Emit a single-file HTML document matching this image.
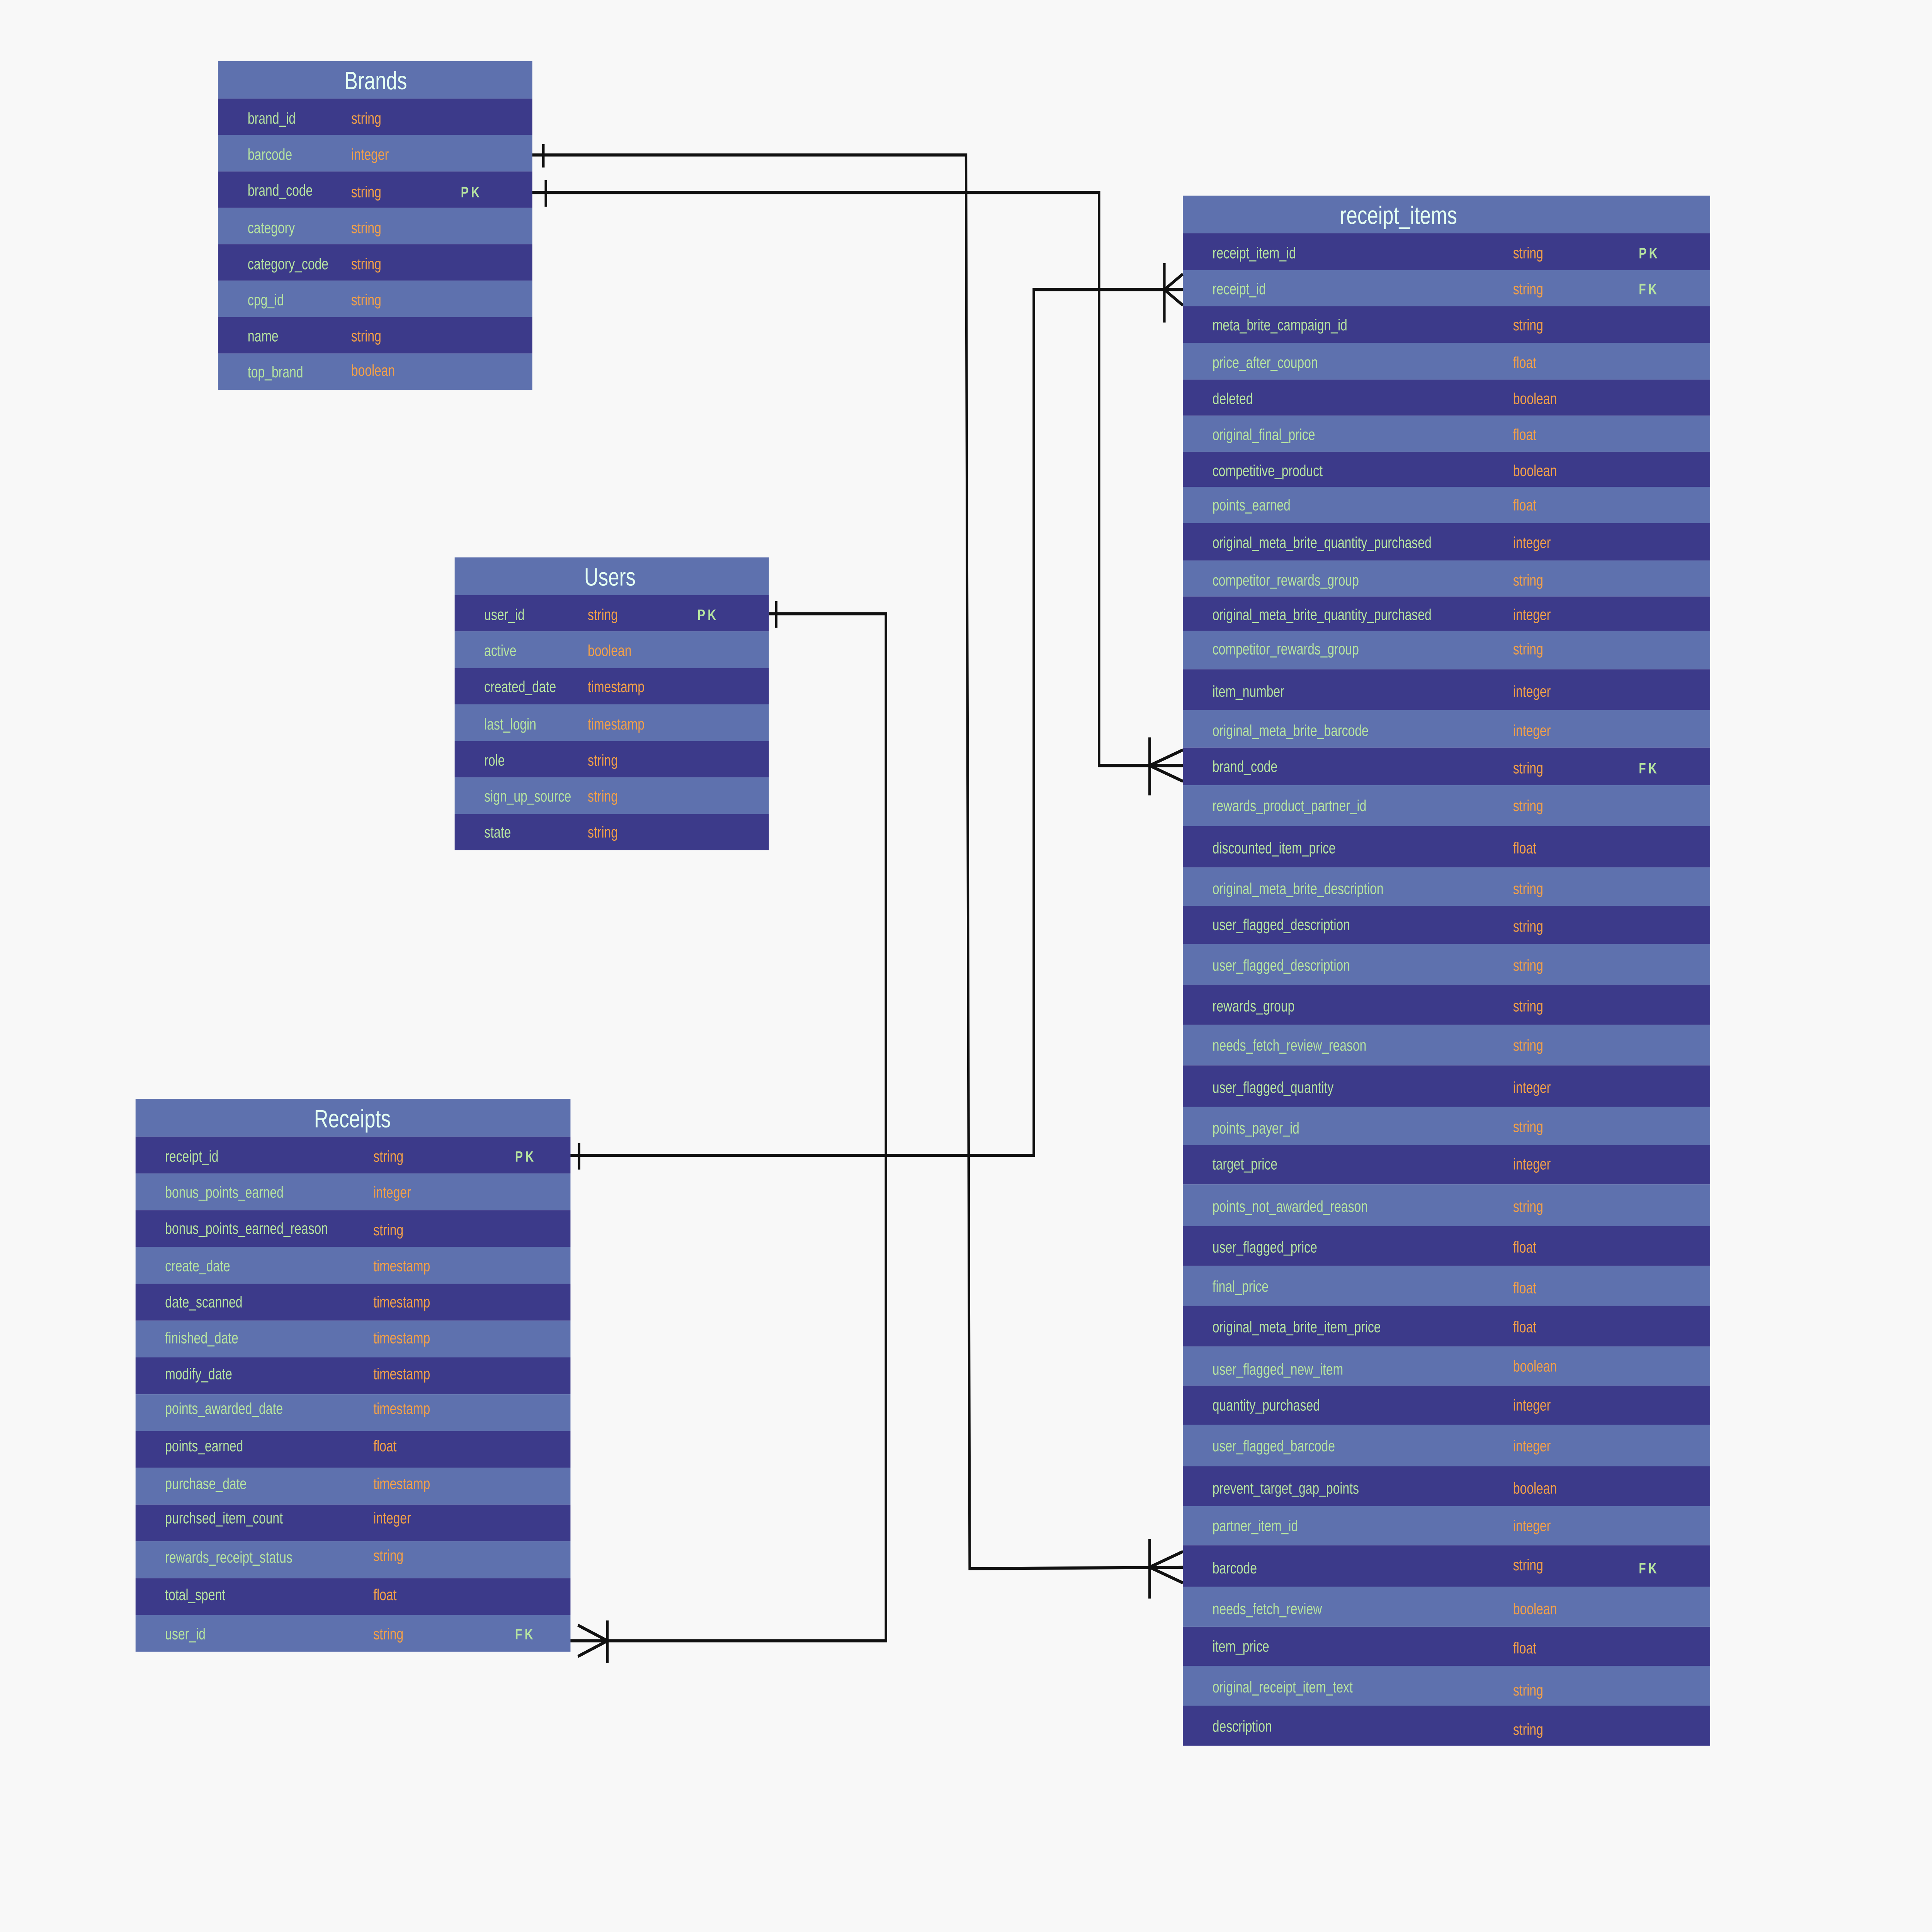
<!DOCTYPE html>
<html><head><meta charset="utf-8"><style>
html,body{margin:0;padding:0;background:#f8f8f8;width:100%;height:100%;overflow:hidden;}
svg{display:block;position:fixed;left:0;top:0;width:100vw;height:100vh;}
text{font-family:"Liberation Sans",sans-serif;}
.n{fill:#b6e4a0;font-size:10px;}
.t{fill:#f3a048;font-size:10px;}
.k{fill:#b6e4a0;font-size:9.5px;font-weight:bold;letter-spacing:2px;}
.h{fill:#e4fff2;font-size:16px;}
.d{fill:#3c3a8a;}
.l{fill:#5e71ae;}
.c{stroke:#111;stroke-width:2;fill:none;}
</style></head><body>
<svg viewBox="0 0 1568 1234" preserveAspectRatio="none" xmlns="http://www.w3.org/2000/svg">
<rect width="1568" height="1234" fill="#f8f8f8"/>

<!-- Brands -->
<rect x="177" y="39" width="255" height="24" class="l"/>
<text x="305" y="57" class="h" text-anchor="middle">Brands</text>
<rect x="177" y="63" width="255" height="23.25" class="d"/>
<rect x="177" y="86.25" width="255" height="23.25" class="l"/>
<rect x="177" y="109.5" width="255" height="23.25" class="d"/>
<rect x="177" y="132.75" width="255" height="23.25" class="l"/>
<rect x="177" y="156" width="255" height="23.25" class="d"/>
<rect x="177" y="179.25" width="255" height="23.25" class="l"/>
<rect x="177" y="202.5" width="255" height="23.25" class="d"/>
<rect x="177" y="225.75" width="255" height="23.25" class="l"/>
<text x="201" y="79" class="n">brand_id</text><text x="285" y="79" class="t">string</text>
<text x="201" y="102" class="n">barcode</text><text x="285" y="102" class="t">integer</text>
<text x="201" y="125" class="n">brand_code</text><text x="285" y="126" class="t">string</text><text x="374" y="126" class="k">PK</text>
<text x="201" y="149" class="n">category</text><text x="285" y="149" class="t">string</text>
<text x="201" y="172" class="n">category_code</text><text x="285" y="172" class="t">string</text>
<text x="201" y="195" class="n">cpg_id</text><text x="285" y="195" class="t">string</text>
<text x="201" y="218" class="n">name</text><text x="285" y="218" class="t">string</text>
<text x="201" y="241" class="n">top_brand</text><text x="285" y="240" class="t">boolean</text>

<!-- Users -->
<rect x="369" y="356" width="255" height="24" class="l"/>
<text x="495" y="374" class="h" text-anchor="middle">Users</text>
<rect x="369" y="380" width="255" height="23.3" class="d"/>
<rect x="369" y="403.3" width="255" height="23.3" class="l"/>
<rect x="369" y="426.6" width="255" height="23.3" class="d"/>
<rect x="369" y="449.9" width="255" height="23.3" class="l"/>
<rect x="369" y="473.2" width="255" height="23.3" class="d"/>
<rect x="369" y="496.5" width="255" height="23.3" class="l"/>
<rect x="369" y="519.8" width="255" height="23.2" class="d"/>
<text x="393" y="396" class="n">user_id</text><text x="477" y="396" class="t">string</text><text x="566" y="396" class="k">PK</text>
<text x="393" y="419" class="n">active</text><text x="477" y="419" class="t">boolean</text>
<text x="393" y="442" class="n">created_date</text><text x="477" y="442" class="t">timestamp</text>
<text x="393" y="466" class="n">last_login</text><text x="477" y="466" class="t">timestamp</text>
<text x="393" y="489" class="n">role</text><text x="477" y="489" class="t">string</text>
<text x="393" y="512" class="n">sign_up_source</text><text x="477" y="512" class="t">string</text>
<text x="393" y="535" class="n">state</text><text x="477" y="535" class="t">string</text>

<!-- Receipts -->
<rect x="110" y="702" width="353" height="24" class="l"/>
<text x="286" y="720" class="h" text-anchor="middle">Receipts</text>
<rect x="110" y="726" width="353" height="23.5" class="d"/>
<rect x="110" y="749.5" width="353" height="23.5" class="l"/>
<rect x="110" y="773" width="353" height="23.5" class="d"/>
<rect x="110" y="796.5" width="353" height="23.5" class="l"/>
<rect x="110" y="820" width="353" height="23.5" class="d"/>
<rect x="110" y="843.5" width="353" height="23.5" class="l"/>
<rect x="110" y="867" width="353" height="23.5" class="d"/>
<rect x="110" y="890.5" width="353" height="23.5" class="l"/>
<rect x="110" y="914" width="353" height="23.5" class="d"/>
<rect x="110" y="937.5" width="353" height="23.5" class="l"/>
<rect x="110" y="961" width="353" height="23.5" class="d"/>
<rect x="110" y="984.5" width="353" height="23.5" class="l"/>
<rect x="110" y="1008" width="353" height="23.5" class="d"/>
<rect x="110" y="1031.5" width="353" height="23.5" class="l"/>
<text x="134" y="742" class="n">receipt_id</text><text x="303" y="742" class="t">string</text><text x="418" y="742" class="k">PK</text>
<text x="134" y="765" class="n">bonus_points_earned</text><text x="303" y="765" class="t">integer</text>
<text x="134" y="788" class="n">bonus_points_earned_reason</text><text x="303" y="789" class="t">string</text>
<text x="134" y="812" class="n">create_date</text><text x="303" y="812" class="t">timestamp</text>
<text x="134" y="835" class="n">date_scanned</text><text x="303" y="835" class="t">timestamp</text>
<text x="134" y="858" class="n">finished_date</text><text x="303" y="858" class="t">timestamp</text>
<text x="134" y="881" class="n">modify_date</text><text x="303" y="881" class="t">timestamp</text>
<text x="134" y="903" class="n">points_awarded_date</text><text x="303" y="903" class="t">timestamp</text>
<text x="134" y="927" class="n">points_earned</text><text x="303" y="927" class="t">float</text>
<text x="134" y="951" class="n">purchase_date</text><text x="303" y="951" class="t">timestamp</text>
<text x="134" y="973" class="n">purchsed_item_count</text><text x="303" y="973" class="t">integer</text>
<text x="134" y="998" class="n">rewards_receipt_status</text><text x="303" y="997" class="t">string</text>
<text x="134" y="1022" class="n">total_spent</text><text x="303" y="1022" class="t">float</text>
<text x="134" y="1047" class="n">user_id</text><text x="303" y="1047" class="t">string</text><text x="418" y="1047" class="k">FK</text>

<!-- receipt_items -->
<rect x="960" y="125" width="428" height="24" class="l"/>
<text x="1135" y="143" class="h" text-anchor="middle">receipt_items</text>
<rect x="960" y="149" width="428" height="23.5" class="d"/>
<rect x="960" y="172.5" width="428" height="23" class="l"/>
<rect x="960" y="195.5" width="428" height="23.5" class="d"/>
<rect x="960" y="219" width="428" height="23.5" class="l"/>
<rect x="960" y="242.5" width="428" height="23" class="d"/>
<rect x="960" y="265.5" width="428" height="23" class="l"/>
<rect x="960" y="288.5" width="428" height="22.5" class="d"/>
<rect x="960" y="311" width="428" height="23" class="l"/>
<rect x="960" y="334" width="428" height="24" class="d"/>
<rect x="960" y="358" width="428" height="23" class="l"/>
<rect x="960" y="381" width="428" height="22" class="d"/>
<rect x="960" y="403" width="428" height="24.5" class="l"/>
<rect x="960" y="427.5" width="428" height="26" class="d"/>
<rect x="960" y="453.5" width="428" height="24" class="l"/>
<rect x="960" y="477.5" width="428" height="24" class="d"/>
<rect x="960" y="501.5" width="428" height="26" class="l"/>
<rect x="960" y="527.5" width="428" height="26.5" class="d"/>
<rect x="960" y="554" width="428" height="24.5" class="l"/>
<rect x="960" y="578.5" width="428" height="24.5" class="d"/>
<rect x="960" y="603" width="428" height="26" class="l"/>
<rect x="960" y="629" width="428" height="25.5" class="d"/>
<rect x="960" y="654.5" width="428" height="26" class="l"/>
<rect x="960" y="680.5" width="428" height="26.5" class="d"/>
<rect x="960" y="707" width="428" height="24.5" class="l"/>
<rect x="960" y="731.5" width="428" height="25" class="d"/>
<rect x="960" y="756.5" width="428" height="26.5" class="l"/>
<rect x="960" y="783" width="428" height="25.5" class="d"/>
<rect x="960" y="808.5" width="428" height="25.5" class="l"/>
<rect x="960" y="834" width="428" height="26" class="d"/>
<rect x="960" y="860" width="428" height="25" class="l"/>
<rect x="960" y="885" width="428" height="25" class="d"/>
<rect x="960" y="910" width="428" height="26.5" class="l"/>
<rect x="960" y="936.5" width="428" height="25.5" class="d"/>
<rect x="960" y="962" width="428" height="25" class="l"/>
<rect x="960" y="987" width="428" height="26.5" class="d"/>
<rect x="960" y="1013.5" width="428" height="25.5" class="l"/>
<rect x="960" y="1039" width="428" height="25" class="d"/>
<rect x="960" y="1064" width="428" height="25.5" class="l"/>
<rect x="960" y="1089.5" width="428" height="25.5" class="d"/>
<text x="984" y="165" class="n">receipt_item_id</text><text x="1228" y="165" class="t">string</text><text x="1330" y="165" class="k">PK</text>
<text x="984" y="188" class="n">receipt_id</text><text x="1228" y="188" class="t">string</text><text x="1330" y="188" class="k">FK</text>
<text x="984" y="211" class="n">meta_brite_campaign_id</text><text x="1228" y="211" class="t">string</text>
<text x="984" y="235" class="n">price_after_coupon</text><text x="1228" y="235" class="t">float</text>
<text x="984" y="258" class="n">deleted</text><text x="1228" y="258" class="t">boolean</text>
<text x="984" y="281" class="n">original_final_price</text><text x="1228" y="281" class="t">float</text>
<text x="984" y="304" class="n">competitive_product</text><text x="1228" y="304" class="t">boolean</text>
<text x="984" y="326" class="n">points_earned</text><text x="1228" y="326" class="t">float</text>
<text x="984" y="350" class="n">original_meta_brite_quantity_purchased</text><text x="1228" y="350" class="t">integer</text>
<text x="984" y="374" class="n">competitor_rewards_group</text><text x="1228" y="374" class="t">string</text>
<text x="984" y="396" class="n">original_meta_brite_quantity_purchased</text><text x="1228" y="396" class="t">integer</text>
<text x="984" y="418" class="n">competitor_rewards_group</text><text x="1228" y="418" class="t">string</text>
<text x="984" y="445" class="n">item_number</text><text x="1228" y="445" class="t">integer</text>
<text x="984" y="470" class="n">original_meta_brite_barcode</text><text x="1228" y="470" class="t">integer</text>
<text x="984" y="493" class="n">brand_code</text><text x="1228" y="494" class="t">string</text><text x="1330" y="494" class="k">FK</text>
<text x="984" y="518" class="n">rewards_product_partner_id</text><text x="1228" y="518" class="t">string</text>
<text x="984" y="545" class="n">discounted_item_price</text><text x="1228" y="545" class="t">float</text>
<text x="984" y="571" class="n">original_meta_brite_description</text><text x="1228" y="571" class="t">string</text>
<text x="984" y="594" class="n">user_flagged_description</text><text x="1228" y="595" class="t">string</text>
<text x="984" y="620" class="n">user_flagged_description</text><text x="1228" y="620" class="t">string</text>
<text x="984" y="646" class="n">rewards_group</text><text x="1228" y="646" class="t">string</text>
<text x="984" y="671" class="n">needs_fetch_review_reason</text><text x="1228" y="671" class="t">string</text>
<text x="984" y="698" class="n">user_flagged_quantity</text><text x="1228" y="698" class="t">integer</text>
<text x="984" y="724" class="n">points_payer_id</text><text x="1228" y="723" class="t">string</text>
<text x="984" y="747" class="n">target_price</text><text x="1228" y="747" class="t">integer</text>
<text x="984" y="774" class="n">points_not_awarded_reason</text><text x="1228" y="774" class="t">string</text>
<text x="984" y="800" class="n">user_flagged_price</text><text x="1228" y="800" class="t">float</text>
<text x="984" y="825" class="n">final_price</text><text x="1228" y="826" class="t">float</text>
<text x="984" y="851" class="n">original_meta_brite_item_price</text><text x="1228" y="851" class="t">float</text>
<text x="984" y="878" class="n">user_flagged_new_item</text><text x="1228" y="876" class="t">boolean</text>
<text x="984" y="901" class="n">quantity_purchased</text><text x="1228" y="901" class="t">integer</text>
<text x="984" y="927" class="n">user_flagged_barcode</text><text x="1228" y="927" class="t">integer</text>
<text x="984" y="954" class="n">prevent_target_gap_points</text><text x="1228" y="954" class="t">boolean</text>
<text x="984" y="978" class="n">partner_item_id</text><text x="1228" y="978" class="t">integer</text>
<text x="984" y="1005" class="n">barcode</text><text x="1228" y="1003" class="t">string</text><text x="1330" y="1005" class="k">FK</text>
<text x="984" y="1031" class="n">needs_fetch_review</text><text x="1228" y="1031" class="t">boolean</text>
<text x="984" y="1055" class="n">item_price</text><text x="1228" y="1056" class="t">float</text>
<text x="984" y="1081" class="n">original_receipt_item_text</text><text x="1228" y="1083" class="t">string</text>
<text x="984" y="1106" class="n">description</text><text x="1228" y="1108" class="t">string</text>

<!-- connectors -->
<polyline class="c" points="432,99 784,99 787,1002 960,1001"/>
<line class="c" x1="441" y1="92" x2="441" y2="107"/>
<line class="c" x1="933" y1="983" x2="933" y2="1021"/>
<line class="c" x1="933" y1="1001" x2="960" y2="991"/>
<line class="c" x1="933" y1="1001" x2="960" y2="1011"/>
<polyline class="c" points="432,123 892,123 892,489 960,489"/>
<line class="c" x1="443" y1="115" x2="443" y2="132"/>
<line class="c" x1="933" y1="471" x2="933" y2="508"/>
<line class="c" x1="933" y1="489" x2="960" y2="479"/>
<line class="c" x1="933" y1="489" x2="960" y2="499"/>
<polyline class="c" points="624,392 719,392 719,1048 463,1048"/>
<line class="c" x1="630" y1="384" x2="630" y2="401"/>
<line class="c" x1="493" y1="1035" x2="493" y2="1062"/>
<line class="c" x1="493" y1="1048" x2="469" y2="1038"/>
<line class="c" x1="493" y1="1048" x2="469" y2="1058"/>
<polyline class="c" points="463,738 839,738 839,185 960,185"/>
<line class="c" x1="470" y1="730" x2="470" y2="747"/>
<line class="c" x1="945" y1="168" x2="945" y2="206"/>
<line class="c" x1="945" y1="185" x2="960" y2="175"/>
<line class="c" x1="945" y1="185" x2="960" y2="195"/>
</svg>
</body></html>
